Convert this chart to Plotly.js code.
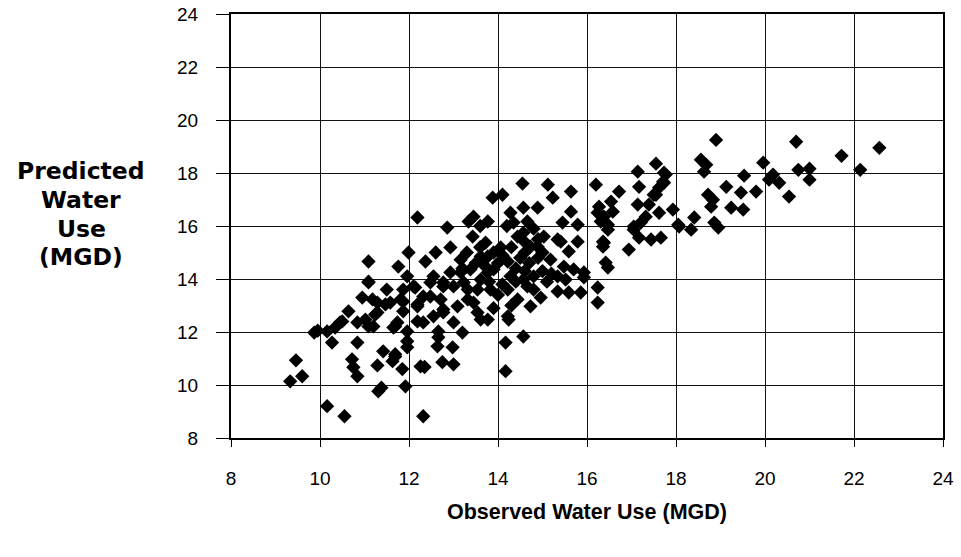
<!DOCTYPE html>
<html>
<head>
<meta charset="utf-8">
<script src="https://cdn.plot.ly/plotly-3.0.1.min.js"></script>
<style>
  html, body { margin: 0; padding: 0; background: #fff; }
  #chart { width: 961px; height: 557px; }
</style>
</head>
<body>
<div id="chart"></div>
<script>
// Observed vs. predicted daily water use, million gallons per day
const observed = [
  9.33, 9.46, 9.6, 9.87, 9.95, 10.16, 10.55, 10.27, 10.16, 10.34,
  10.5, 10.64, 10.84, 10.84, 10.95, 11.09, 11.5, 11.18, 11.47, 11.29,
  11.2, 11.02, 10.72, 10.75, 10.84, 11.42, 11.29, 11.63, 11.31, 11.38,
  11.65, 11.92, 12.32, 12.19, 11.09, 11.09, 11.76, 11.99, 11.96, 11.87,
  12.14, 12.19, 11.87, 11.87, 11.58, 11.29, 10.45, 11.24, 11.09, 11.69,
  11.96, 11.96, 11.96, 11.69, 11.85, 12.26, 12.35, 12.64, 12.75, 12.98,
  13.0, 13.2, 12.19, 12.6, 12.37, 12.86, 12.93, 13.34, 13.45, 13.77,
  13.88, 14.1, 13.43, 13.16, 12.55, 12.77, 12.48, 12.55, 12.77, 13.09,
  13.32, 13.54, 13.61, 13.0, 12.66, 13.77, 13.61, 13.16, 13.0, 14.55,
  14.28, 14.57, 14.89, 14.35, 14.66, 13.72, 14.06, 14.44, 14.73, 14.57,
  14.22, 13.9, 13.38, 12.93, 12.1, 12.48, 12.77, 13.23, 13.61, 13.83,
  14.28, 14.57, 14.8, 14.22, 14.44, 14.66, 12.32, 12.71, 13.45, 13.54,
  13.77, 12.77, 12.19, 11.81, 11.74, 12.32, 14.22, 14.73, 13.32, 13.77,
  17.14, 17.77, 15.12, 15.64, 15.23, 15.64, 16.2, 16.72, 16.54, 16.27,
  16.24, 16.58, 16.31, 16.47, 16.47, 17.17, 17.5, 17.62, 17.71, 17.14,
  17.39, 17.62, 17.93, 18.05, 17.32, 17.21, 17.05, 17.17, 17.44, 17.66,
  16.94, 16.36, 16.36, 16.42, 16.47, 15.45, 15.79, 15.79, 15.59, 15.93,
  15.93, 16.24, 16.24, 15.86, 15.59, 15.34, 14.96, 14.8, 15.03, 15.34,
  14.89, 15.48, 15.34, 15.7, 15.18, 15.52, 11.69, 12.66, 14.17, 14.57,
  14.17, 14.24, 17.55, 15.41, 16.38, 16.38, 17.05, 18.9, 20.7, 22.57,
  21.72, 18.56, 18.68, 18.63, 19.96, 20.75, 21.0, 21.0, 22.14, 20.18,
  20.09, 20.32, 20.54, 19.53, 19.13, 18.72, 18.83, 19.46, 19.8, 19.24,
  19.51, 18.79, 18.41, 18.86, 18.95, 18.07, 18.34, 17.73, 17.73, 17.55,
  14.5, 14.6, 14.7, 14.4, 14.9, 15.0, 14.3, 14.1, 13.9, 14.0,
  13.6, 13.5, 13.8, 14.1, 14.4, 14.6, 15.0, 15.2, 14.9, 13.3,
  13.7, 13.2, 14.0, 13.9, 14.3, 15.1, 14.6, 14.8, 14.2, 13.6
];

const predicted = [
  10.14, 10.93, 10.33, 11.98, 12.05, 9.2, 8.82, 11.6, 12.02, 12.17,
  12.4, 12.78, 12.36, 11.6, 13.3, 13.87, 13.6, 13.23, 13.04, 12.74,
  12.21, 12.47, 10.97, 10.67, 10.33, 11.27, 10.74, 10.9, 9.76, 9.9,
  12.17, 9.95, 8.82, 16.32, 14.66, 13.9, 14.47, 15.0, 14.1, 13.6,
  13.68, 13.04, 13.15, 12.78, 13.11, 13.11, 12.36, 12.66, 12.21, 12.21,
  12.02, 11.65, 11.42, 11.08, 10.6, 10.7, 10.68, 11.46, 10.86, 11.42,
  10.78, 11.98, 12.4, 15.0, 14.66, 15.94, 15.19, 16.17, 16.35, 16.17,
  17.07, 17.18, 15.6, 14.73, 14.1, 13.87, 13.34, 12.59, 12.85, 12.97,
  13.23, 13.6, 12.47, 12.36, 12.02, 14.25, 14.85, 14.25, 13.72, 17.6,
  16.5, 16.69, 16.69, 16.13, 16.17, 15.37, 15.19, 15.6, 15.22, 15.75,
  14.66, 14.36, 14.36, 14.25, 13.72, 13.87, 13.72, 13.87, 13.98, 13.6,
  14.1, 13.98, 13.6, 13.6, 13.23, 13.72, 13.34, 13.23, 13.11, 12.74,
  12.47, 12.74, 12.97, 13.23, 12.36, 12.36, 12.59, 12.97, 13.6, 14.85,
  18.05, 17.94, 17.56, 17.3, 17.07, 16.54, 17.56, 17.3, 16.92, 16.73,
  16.5, 16.54, 16.17, 16.05, 15.86, 17.48, 17.18, 17.45, 17.67, 16.81,
  16.81, 16.5, 16.62, 16.05, 16.35, 16.13, 15.86, 15.56, 15.49, 15.56,
  15.11, 15.41, 15.22, 14.62, 14.43, 16.13, 16.05, 15.41, 15.04, 14.25,
  14.06, 13.68, 13.11, 13.49, 13.49, 13.53, 13.3, 14.1, 15.6, 15.49,
  15.22, 14.47, 14.1, 14.36, 14.73, 13.98, 11.16, 11.8, 11.6, 11.83,
  10.52, 12.47, 18.35, 15.41, 16.35, 15.37, 15.98, 19.25, 19.18, 18.95,
  18.65, 18.5, 18.31, 18.05, 18.39, 18.12, 18.16, 17.75, 18.12, 17.94,
  17.75, 17.63, 17.11, 17.9, 17.48, 17.18, 16.99, 17.26, 17.3, 16.69,
  16.62, 16.73, 16.32, 16.13, 15.94, 15.98, 15.86, 18.01, 17.63, 17.18,
  14.8, 15.0, 14.6, 14.4, 14.8, 15.0, 15.2, 14.9, 15.0, 14.6,
  15.2, 14.6, 13.9, 13.8, 13.9, 14.3, 14.3, 14.2, 15.5, 15.0,
  14.5, 14.4, 13.4, 12.9, 13.0, 13.9, 15.4, 15.9, 16.0, 16.0
];

const tickValues = [8, 10, 12, 14, 16, 18, 20, 22, 24];
const xTitle = 'Observed Water Use (MGD)';
const yTitleLines = ['Predicted', 'Water', 'Use', '(MGD)'];

const tickFont = { family: 'Liberation Sans, Arial, sans-serif', size: 19, color: '#000' };
const xTitleFont = { family: 'Liberation Sans, Arial, sans-serif', size: 21.5, color: '#000', weight: 'bold' };
const yTitleFont = { family: 'DejaVu Sans, sans-serif', size: 23.5, color: '#000', weight: 'bold' };

const axisBase = {
  range: [8, 24],
  tickvals: tickValues,
  ticktext: tickValues.map(String),
  showgrid: true,
  gridcolor: '#111',
  gridwidth: 1,
  showline: true,
  linecolor: '#000',
  linewidth: 2,
  mirror: true,
  ticks: 'outside',
  tickcolor: '#000',
  tickwidth: 1,
  zeroline: false,
  tickfont: tickFont,
  fixedrange: true
};

const trace = {
  type: 'scatter',
  mode: 'markers',
  x: observed,
  y: predicted,
  marker: { symbol: 'diamond', size: 11, color: '#000', line: { width: 0 } },
  hoverinfo: 'x+y'
};

// Stacked vertical-axis title, one line per annotation for tight spacing
const lineOffsets = [157, 186, 215, 243];
const yTitleAnnotations = yTitleLines.map((line, i) => ({
  text: line, xref: 'paper', yref: 'paper', x: 0, y: 1,
  xanchor: 'center', yanchor: 'middle', xshift: -150, yshift: -lineOffsets[i],
  showarrow: false, font: yTitleFont
}));

const layout = {
  width: 961,
  height: 557,
  margin: { l: 231, r: 18, t: 14, b: 119 },
  paper_bgcolor: '#fff',
  plot_bgcolor: '#fff',
  showlegend: false,
  xaxis: Object.assign({}, axisBase, { ticklen: 7, ticklabelstandoff: 15 }),
  yaxis: Object.assign({}, axisBase, { ticklen: 13, ticklabelstandoff: 14 }),
  annotations: [
    {
      text: xTitle, xref: 'paper', yref: 'paper', x: 0.5, y: 0,
      xanchor: 'center', yanchor: 'middle', yshift: -74,
      showarrow: false, font: xTitleFont
    }
  ].concat(yTitleAnnotations)
};

Plotly.newPlot('chart', [trace], layout, { displayModeBar: false, staticPlot: true });
</script>
</body>
</html>
